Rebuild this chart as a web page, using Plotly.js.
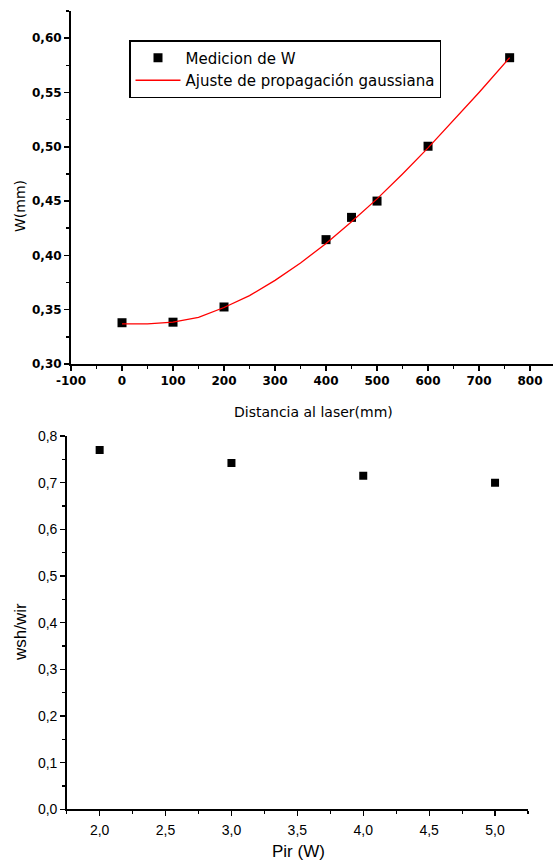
<!DOCTYPE html>
<html>
<head>
<meta charset="utf-8">
<script src="https://cdn.plot.ly/plotly-3.0.1.min.js"></script>
<style>html,body{margin:0;padding:0;background:#fff;}#chart{width:554px;height:861px;}</style>
</head>
<body>
<div id="chart"></div>
<script>
// Top chart: beam width measurements vs distance
const distMeas = [0, 100, 200, 400, 450, 500, 600, 760];
const wMeas = [0.338, 0.3385, 0.3525, 0.4145, 0.435, 0.450, 0.5005, 0.582];
// Fitted gaussian propagation curve
const distFit = [0, 50, 100, 150, 200, 250, 300, 350, 400, 450, 500, 550, 600, 650, 700, 760];
const wFit = [0.337, 0.337, 0.3385, 0.343, 0.352, 0.363, 0.377, 0.393, 0.411, 0.431, 0.452, 0.475, 0.499, 0.524, 0.550, 0.582];
const topXTicks = [-100, 0, 100, 200, 300, 400, 500, 600, 700, 800];
const topXLabels = ["-100", "0", "100", "200", "300", "400", "500", "600", "700", "800"];

// Bottom chart: ratio vs power
const pir = [2.0, 3.0, 4.0, 5.0];
const ratio = [0.770, 0.742, 0.715, 0.700];

const legendNames = ["Medicion de W", "Ajuste de propagación gaussiana"];

const W = 554, H = 861;
const px = v => v / W;
const py = v => 1 - v / H;

const topFont = {family: "DejaVu Sans", size: 12, color: "#000", weight: "bold"};
const botFont = {family: "Liberation Sans, Arial", size: 14, color: "#000"};

const traces = [
  {x: distMeas, y: wMeas, type: "scatter", mode: "markers", name: legendNames[0],
   marker: {symbol: "square", size: 9, color: "#000"}, xaxis: "x", yaxis: "y"},
  {x: distFit, y: wFit, type: "scatter", mode: "lines", name: legendNames[1],
   line: {color: "#ff0000", width: 1.3}, xaxis: "x", yaxis: "y"},
  {x: pir, y: ratio, type: "scatter", mode: "markers", showlegend: false,
   marker: {symbol: "square", size: 8, color: "#000"}, xaxis: "x2", yaxis: "y2"}
];

const layout = {
  width: W, height: H,
  margin: {l: 0, r: 0, t: 0, b: 0},
  paper_bgcolor: "#fff", plot_bgcolor: "#fff",
  separators: ",.",
  showlegend: true,
  legend: {x: px(129), y: py(40), xanchor: "left", yanchor: "top",
    bordercolor: "#000", borderwidth: 1.5, bgcolor: "#fff",
    font: {family: "DejaVu Sans", size: 15, color: "#000"},
    itemwidth: 45, tracegroupgap: 0},
  xaxis: {domain: [px(71), px(553)], range: [-100, 845], anchor: "y",
    showgrid: false, zeroline: false, showline: true, linecolor: "#000", linewidth: 2,
    ticks: "outside", ticklen: 5, tickwidth: 1.5, tickcolor: "#000",
    tickmode: "array", tickvals: topXTicks, ticktext: topXLabels, tickfont: topFont,
    minor: {dtick: 50, tick0: 0, ticks: "outside", ticklen: 3, tickwidth: 1.5, tickcolor: "#000", showgrid: false}},
  yaxis: {domain: [py(364), py(11)], range: [0.30, 0.625], anchor: "x",
    showgrid: false, zeroline: false, showline: true, linecolor: "#000", linewidth: 2,
    ticks: "outside", ticklen: 5, tickwidth: 1.5, tickcolor: "#000",
    tick0: 0.30, dtick: 0.05, tickformat: ".2f", tickfont: topFont,
    minor: {dtick: 0.025, ticks: "outside", ticklen: 3, tickwidth: 1.5, tickcolor: "#000", showgrid: false}},
  xaxis2: {domain: [px(66.7), px(528)], range: [1.75, 5.25], anchor: "y2",
    showgrid: false, zeroline: false, showline: true, linecolor: "#000", linewidth: 1.5,
    ticks: "outside", ticklen: 5, tickwidth: 1.2, tickcolor: "#000",
    tick0: 2.0, dtick: 0.5, tickformat: ".1f", tickfont: botFont, ticklabelstandoff: 2,
    minor: {dtick: 0.25, ticks: "outside", ticklen: 3, tickwidth: 1.2, tickcolor: "#000", showgrid: false}},
  yaxis2: {domain: [py(809.3), py(436)], range: [0, 0.8], anchor: "x2",
    showgrid: false, zeroline: false, showline: true, linecolor: "#000", linewidth: 1.5,
    ticks: "outside", ticklen: 5, tickwidth: 1.2, tickcolor: "#000",
    tick0: 0, dtick: 0.1, tickformat: ".1f", tickfont: botFont,
    minor: {dtick: 0.05, ticks: "outside", ticklen: 3, tickwidth: 1.2, tickcolor: "#000", showgrid: false}},
  annotations: [
    {text: "Distancia al laser(mm)", xref: "paper", yref: "paper", x: px(313), y: py(412),
     xanchor: "center", yanchor: "middle", showarrow: false,
     font: {family: "DejaVu Sans", size: 14, color: "#000"}},
    {text: "W(mm)", xref: "paper", yref: "paper", x: px(20), y: py(206), textangle: -90,
     xanchor: "center", yanchor: "middle", showarrow: false,
     font: {family: "DejaVu Sans", size: 14, color: "#000"}},
    {text: "Pir (W)", xref: "paper", yref: "paper", x: px(298), y: py(851),
     xanchor: "center", yanchor: "middle", showarrow: false,
     font: {family: "Liberation Sans, Arial", size: 17, color: "#000"}},
    {text: "wsh/wir", xref: "paper", yref: "paper", x: px(20), y: py(632), textangle: -90,
     xanchor: "center", yanchor: "middle", showarrow: false,
     font: {family: "Liberation Sans, Arial", size: 17, color: "#000"}}
  ]
};

Plotly.newPlot("chart", traces, layout, {staticPlot: true, displayModeBar: false});
</script>
</body>
</html>
